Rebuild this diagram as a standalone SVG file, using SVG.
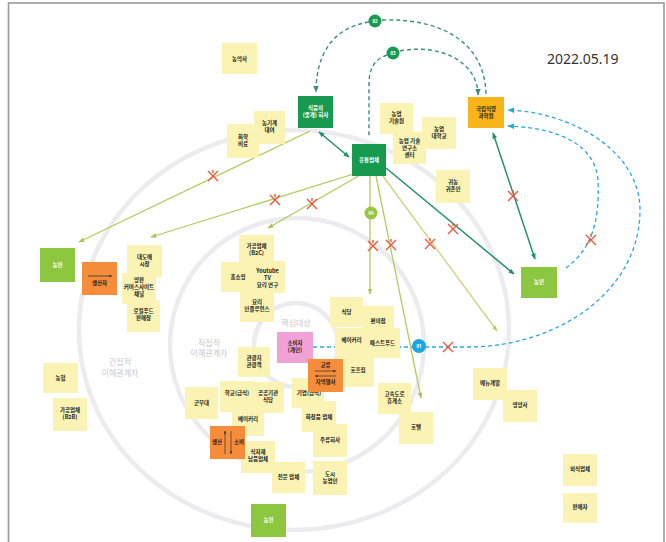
<svg xmlns="http://www.w3.org/2000/svg" width="666" height="542" viewBox="0 0 666 542">
<style>
.ring{fill:none;stroke:#ececf0;stroke-width:4.5}
.n{fill:#faf3b3}
.t{font-family:"Noto Sans CJK KR","Noto Sans",sans-serif;font-size:5.5px;font-weight:bold;fill:#222;text-anchor:middle}
.tw{font-family:"Noto Sans CJK KR","Noto Sans",sans-serif;font-size:5.5px;font-weight:bold;fill:#fff;text-anchor:middle}
.dg{fill:#17994f}
.lg{fill:#8dc63f}
.or{fill:#f58d3a}
.gl{font-family:"Noto Sans CJK KR","Noto Sans",sans-serif;font-size:8px;fill:#c8c8cc;text-anchor:middle}
.lime{stroke:#b2cb5e;stroke-width:1.3;fill:none}
.yel{stroke:#cfd27c;stroke-width:1.3;fill:none}
.teal{stroke:#21906a;stroke-width:1.5;fill:none}
.dash{stroke:#3c8d80;stroke-width:1.4;fill:none;stroke-dasharray:4 3}
.cy{stroke:#2aa8dc;stroke-width:1.3;fill:none;stroke-dasharray:4 3}
.x{stroke:#e8583f;stroke-width:1.4;fill:none}
.num{font-family:"Noto Sans","DejaVu Sans",sans-serif;font-size:4.5px;font-weight:bold;fill:#fff;text-anchor:middle}
</style>
<defs>
<marker id="aLime" viewBox="0 0 10 10" refX="9" refY="5" markerWidth="6" markerHeight="6" markerUnits="userSpaceOnUse" orient="auto-start-reverse"><path d="M0,1 L10,5 L0,9 z" fill="#a9c653"/></marker>
<marker id="aYel" viewBox="0 0 10 10" refX="9" refY="5" markerWidth="6" markerHeight="6" markerUnits="userSpaceOnUse" orient="auto-start-reverse"><path d="M0,1 L10,5 L0,9 z" fill="#c6cc6a"/></marker>
<marker id="aTeal" viewBox="0 0 10 10" refX="9" refY="5" markerWidth="6" markerHeight="6" markerUnits="userSpaceOnUse" orient="auto-start-reverse"><path d="M0,1 L10,5 L0,9 z" fill="#21906a"/></marker>
<marker id="aDash" viewBox="0 0 10 10" refX="9" refY="5" markerWidth="7" markerHeight="7" markerUnits="userSpaceOnUse" orient="auto-start-reverse"><path d="M0,1 L10,5 L0,9 z" fill="#3c8d80"/></marker>
<marker id="aCy" viewBox="0 0 10 10" refX="9" refY="5" markerWidth="7" markerHeight="7" markerUnits="userSpaceOnUse" orient="auto-start-reverse"><path d="M0,1 L10,5 L0,9 z" fill="#2aa8dc"/></marker>
<marker id="aBlk" viewBox="0 0 10 10" refX="9" refY="5" markerWidth="3" markerHeight="3" markerUnits="userSpaceOnUse" orient="auto-start-reverse"><path d="M0,1 L10,5 L0,9 z" fill="#333"/></marker>
</defs>
<rect x="0" y="0" width="666" height="542" fill="#fff"/>
<rect x="8.5" y="3" width="655.5" height="560" fill="#fff" stroke="#9a9a9a" stroke-width="1.6"/>

<g id="rings">
<ellipse class="ring" cx="294" cy="330" rx="215" ry="200"/>
<circle class="ring" cx="297" cy="345" r="127"/>
<circle class="ring" cx="296" cy="345" r="42"/>
<text class="gl" x="296" y="326" font-size="7.5">핵심대상</text>
<text class="gl" x="209" y="346">직접적</text>
<text class="gl" x="209" y="356">이해관계자</text>
<text class="gl" x="120" y="365">간접적</text>
<text class="gl" x="120" y="376">이해관계자</text>
</g>

<text id="date" x="547" y="64" font-family="Noto Sans, sans-serif" font-size="14" fill="#333">2022.05.19</text>

<g id="connectors">
<path class="lime" d="M310,131 L79,242" marker-end="url(#aLime)"/>
<path class="lime" d="M360,172 L151,237" marker-end="url(#aLime)"/>
<path class="lime" d="M362,174 L268,228" marker-end="url(#aLime)"/>
<path class="lime" d="M370,176 L370,294" marker-end="url(#aLime)"/>
<path class="lime" d="M376,176 L421,398" marker-end="url(#aLime)"/>
<path class="yel" d="M380,172 L497,331" marker-end="url(#aYel)"/>
<path class="teal" d="M386,168 L514,274" marker-end="url(#aTeal)"/>
<path class="teal" d="M493,133 L535,259" marker-start="url(#aTeal)" marker-end="url(#aTeal)"/>
<path class="teal" d="M319,132 L349,157" marker-start="url(#aTeal)" marker-end="url(#aTeal)"/>
<path class="dash" d="M369,22 C332,28 316,55 316,92" marker-end="url(#aDash)"/>
<path class="dash" d="M382,20 C445,18 486,45 486,96"/>
<path class="dash" d="M400,51 C440,43 478,62 478,95" marker-end="url(#aDash)"/>
<path class="dash" d="M387,55 C373,60 369,70 369,85 L369,138"/>
<path class="cy" d="M313,347 L470,347 C560,346 640,290 640,210 C640,150 570,112 508,110" marker-end="url(#aCy)"/>
<path class="cy" d="M566,268 C590,250 600,225 598,180 C595,145 560,128 508,126" marker-end="url(#aCy)"/>
<g id="crosses">
<path class="x" d="M208,171 l10,10 M218,171 l-10,10 M213,170 v3"/>
<path class="x" d="M270,195 l10,10 M280,195 l-10,10 M275,194 v3"/>
<path class="x" d="M307,199 l10,10 M317,199 l-10,10 M312,198 v3"/>
<path class="x" d="M368,241 l10,10 M378,241 l-10,10 M373,240 v3"/>
<path class="x" d="M386,240 l10,10 M396,240 l-10,10 M391,239 v3"/>
<path class="x" d="M425,239 l10,10 M435,239 l-10,10 M430,238 v3"/>
<path class="x" d="M448,224 l10,10 M458,224 l-10,10 M453,223 v3"/>
<path class="x" d="M508,191 l10,10 M518,191 l-10,10 M513,190 v3"/>
<path class="x" d="M586,235 l10,10 M596,235 l-10,10 M591,234 v3"/>
<path class="x" d="M443,342 l10,10 M453,342 l-10,10"/>
</g>
<g id="badges">
<circle cx="375" cy="21" r="6.5" fill="#1a9a4f"/><text class="num" x="375" y="22.8">02</text>
<circle cx="393" cy="53" r="6.5" fill="#1a9a4f"/><text class="num" x="393" y="54.8">03</text>
<circle cx="371" cy="213" r="6.5" fill="#97c73f"/><text class="num" x="371" y="214.8">04</text>
<circle cx="419" cy="346" r="7" fill="#1ea4e0"/><text class="num" x="419" y="347.8">01</text>
</g>
</g>

<g id="n1"><rect class="n" x="222" y="43" width="35" height="31"/><text class="t" x="239.5" y="60.5">농약사</text></g>
<g id="n2"><rect class="n" x="227" y="124" width="32" height="34"/><text class="t" x="243" y="139">화학</text><text class="t" x="243" y="146">비료</text></g>
<g id="n3"><rect class="n" x="254" y="111" width="31" height="33"/><text class="t" x="269.5" y="125">농기계</text><text class="t" x="269.5" y="132">대여</text></g>
<g id="n4"><rect class="dg" x="298" y="96" width="35" height="32"/><text class="tw" x="315.5" y="110">식품의</text><text class="tw" x="315.5" y="117">(중개) 회사</text></g>
<g id="n5"><rect class="dg" x="352" y="144" width="34" height="32"/><text class="tw" x="369" y="162">유통업체</text></g>
<g id="n6"><rect class="n" x="380" y="103" width="33" height="31"/><text class="t" x="396.5" y="116">농업</text><text class="t" x="396.5" y="123">기술원</text></g>
<g id="n7"><rect class="n" x="393" y="132" width="33" height="32"/><text class="t" x="409.5" y="143">농업 기술</text><text class="t" x="409.5" y="150">연구소</text><text class="t" x="409.5" y="157">센터</text></g>
<g id="n8"><rect class="n" x="422" y="117" width="34" height="32"/><text class="t" x="439" y="131">농업</text><text class="t" x="439" y="138">대학교</text></g>
<g id="n9"><rect class="n" x="436" y="170" width="34" height="33"/><text class="t" x="453" y="184">귀농</text><text class="t" x="453" y="191">귀촌인</text></g>
<g id="n10"><rect x="468" y="97" width="36" height="31" fill="#f8b419"/><text class="t" x="486" y="111">국립식량</text><text class="t" x="486" y="118">과학원</text></g>
<g id="n11"><rect class="lg" x="40" y="248" width="35" height="34"/><text class="tw" x="57.5" y="267">농민</text></g>
<g id="n12"><rect class="or" x="82" y="262" width="35" height="33"/><path d="M88,276 L112,276" stroke="#333" stroke-width="0.8" marker-end="url(#aBlk)"/><text class="t" x="99.5" y="285" font-size="4">생산자</text></g>
<g id="n13"><rect class="n" x="127" y="245" width="35" height="32"/><text class="t" x="144.5" y="259">대도매</text><text class="t" x="144.5" y="266">시장</text></g>
<g id="n14"><rect class="n" x="122" y="273" width="34" height="31"/><text class="t" x="139" y="282">양판</text><text class="t" x="139" y="289">커머스사이트</text><text class="t" x="139" y="296">채널</text></g>
<g id="n15"><rect class="n" x="127" y="300" width="33" height="32"/><text class="t" x="143.5" y="313">로컬푸드</text><text class="t" x="143.5" y="320">판매장</text></g>
<g id="n16"><rect class="n" x="239" y="235" width="35" height="31"/><text class="t" x="256.5" y="248">가공업체</text><text class="t" x="256.5" y="255">(B2C)</text></g>
<g id="n17"><rect class="n" x="221" y="262" width="34" height="30"/><text class="t" x="238" y="279">홈쇼핑</text></g>
<g id="n18"><rect class="n" x="250" y="261" width="35" height="32"/><text class="t" x="267.5" y="273">Youtube</text><text class="t" x="267.5" y="280">TV</text><text class="t" x="267.5" y="287">요리 연구</text></g>
<g id="n19"><rect class="n" x="240" y="292" width="34" height="30"/><text class="t" x="257" y="304">요리</text><text class="t" x="257" y="311">인플루언스</text></g>
<g id="n20"><rect x="277" y="332" width="36" height="31" fill="#f0a2d6"/><text class="t" x="295" y="345">소비자</text><text class="t" x="295" y="352">(개인)</text></g>
<g id="n21"><rect class="n" x="238" y="347" width="32" height="30"/><text class="t" x="254" y="360">관광지</text><text class="t" x="254" y="367">관광객</text></g>
<g id="n22"><rect class="n" x="330" y="297" width="33" height="30"/><text class="t" x="346.5" y="314">식당</text></g>
<g id="n23"><rect class="n" x="362" y="306" width="32" height="31"/><text class="t" x="378" y="323">편의점</text></g>
<g id="n24"><rect class="n" x="335" y="328" width="33" height="30"/><text class="t" x="351.5" y="342">베이커리</text></g>
<g id="n25"><rect class="n" x="365" y="328" width="35" height="30"/><text class="t" x="382.5" y="345">패스트푸드</text></g>
<g id="n26"><rect class="n" x="342" y="355" width="32" height="32"/><text class="t" x="358" y="372">호프집</text></g>
<g id="n28"><rect class="n" x="292" y="378" width="32" height="30"/><text class="t" x="309" y="395">기업(급식)</text></g>
<g id="n27"><rect class="or" x="308" y="359" width="35" height="33"/><text class="t" x="325.5" y="367" font-size="4">교류</text><path d="M315,371 L336,371" stroke="#333" stroke-width="0.7" marker-end="url(#aBlk)"/><path d="M336,376 L315,376" stroke="#333" stroke-width="0.7" marker-end="url(#aBlk)"/><text class="t" x="325.5" y="384" font-size="4">지역행사</text></g>
<g id="n29"><rect class="n" x="302" y="401" width="34" height="31"/><text class="t" x="319" y="419">화장품 업체</text></g>
<g id="n30"><rect class="n" x="313" y="424" width="34" height="33"/><text class="t" x="330" y="442">주류회사</text></g>
<g id="n31"><rect class="n" x="313" y="461" width="34" height="34"/><text class="t" x="330" y="476">도시</text><text class="t" x="330" y="483">농업인</text></g>
<g id="n32"><rect class="n" x="272" y="462" width="33" height="31"/><text class="t" x="288.5" y="479">전문 업체</text></g>
<g id="n33"><rect class="n" x="241" y="441" width="34" height="32"/><text class="t" x="258" y="454">식자재</text><text class="t" x="258" y="461">납품업체</text></g>
<g id="n35"><rect class="n" x="232" y="404" width="32" height="32"/><text class="t" x="248" y="421">베이커리</text></g>
<g id="n36"><rect class="n" x="220" y="381" width="34" height="31"/><text class="t" x="237" y="395">학교(급식)</text></g>
<g id="n37"><rect class="n" x="252" y="382" width="32" height="31"/><text class="t" x="268" y="395">공공기관</text><text class="t" x="268" y="402">식당</text></g>
<g id="n34"><rect class="or" x="210" y="426" width="35" height="33"/><path d="M225,454 L225,431" stroke="#333" stroke-width="0.7" marker-end="url(#aBlk)"/><path d="M231,431 L231,454" stroke="#333" stroke-width="0.7" marker-end="url(#aBlk)"/><text class="t" x="217" y="444" font-size="3.5">생산</text><text class="t" x="239" y="444" font-size="3.5">소비</text></g>
<g id="n38"><rect class="n" x="185" y="387" width="33" height="32"/><text class="t" x="201.5" y="405">군부대</text></g>
<g id="n39"><rect class="n" x="43" y="363" width="35" height="30"/><text class="t" x="60.5" y="380">농협</text></g>
<g id="n40"><rect class="n" x="53" y="398" width="34" height="33"/><text class="t" x="70" y="412">가공업체</text><text class="t" x="70" y="419">(B2B)</text></g>
<g id="n41"><rect class="lg" x="251" y="504" width="35" height="33"/><text class="tw" x="268.5" y="522">농민</text></g>
<g id="n42"><rect class="n" x="378" y="383" width="33" height="31"/><text class="t" x="394.5" y="396">고속도로</text><text class="t" x="394.5" y="403">휴게소</text></g>
<g id="n43"><rect class="n" x="399" y="412" width="34" height="32"/><text class="t" x="416" y="429">호텔</text></g>
<g id="n44"><rect class="n" x="473" y="368" width="34" height="32"/><text class="t" x="490" y="385">메뉴개발</text></g>
<g id="n45"><rect class="n" x="503" y="390" width="34" height="32"/><text class="t" x="520" y="407">영양사</text></g>
<g id="n46"><rect class="n" x="563" y="454" width="34" height="32"/><text class="t" x="580" y="471">외식업체</text></g>
<g id="n47"><rect class="n" x="563" y="493" width="34" height="30"/><text class="t" x="580" y="509">판매자</text></g>
<g id="n48"><rect class="lg" x="521" y="267" width="36" height="31"/><text class="tw" x="539" y="284">농민</text></g>
</svg>
